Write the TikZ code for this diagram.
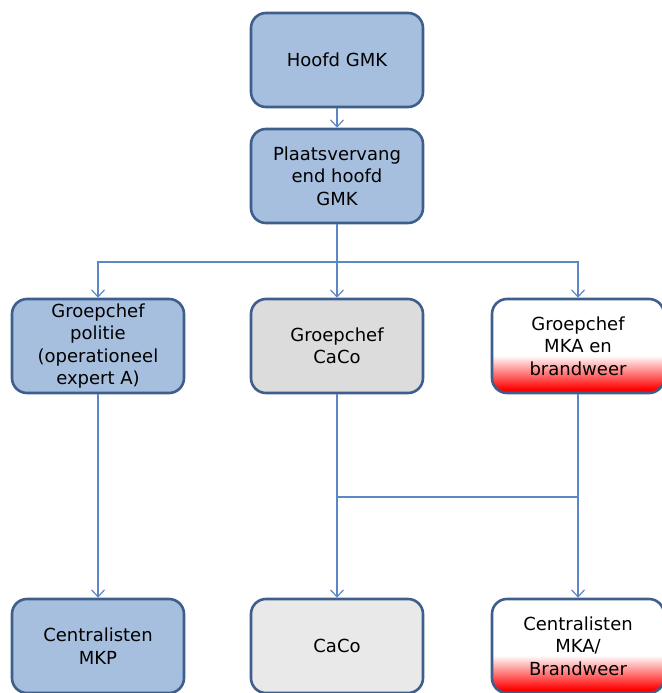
\documentclass[tikz,border=0pt]{standalone}
\usepackage{fontspec}
\setmainfont{DejaVu Sans}
\usepackage{tikz}
\usetikzlibrary{arrows.meta}
\usepackage{xcolor}

\definecolor{boxblue}{RGB}{167,191,222}
\definecolor{boxedge}{RGB}{62,94,140}
\definecolor{linkblue}{RGB}{91,135,198}
\definecolor{boxgray}{RGB}{220,220,220}
\definecolor{boxlight}{RGB}{233,233,233}
\pgfdeclareverticalshading{whitered}{100bp}{color(0bp)=(red); color(27bp)=(red); color(45bp)=(white); color(100bp)=(white)}

\begin{document}
\begin{tikzpicture}[x=1pt,y=-1pt]
\tikzset{>={Straight Barb[length=7pt,width=13pt,line width=1.2pt]}}
\tikzstyle{unit} =[draw=boxedge, line width=2.6pt, rounded corners=15pt, minimum width=172pt, minimum height=94pt, align=center, font=\fontsize{18}{22.5}\selectfont, text=black]
\tikzstyle{blueunit} =[unit, fill=boxblue]
\tikzstyle{grayunit} =[unit, fill=boxgray]
\tikzstyle{lightunit} =[unit, fill=boxlight]
\tikzstyle{redunit} =[unit, shading=whitered]
\tikzstyle{link} =[draw=linkblue, line width=1.4pt]

\useasboundingbox (0,0) rectangle (661,693);

\node[blueunit](hoofd) at (337,60){Hoofd GMK};
\node[blueunit](plv) at (337,176){Plaatsvervang\\end hoofd\\GMK};

\node[blueunit](politie) at (98,346){Groepchef\\politie\\(operationeel\\expert A)};
\node[grayunit](caco) at (337,346){Groepchef\\CaCo};
\node[redunit](mka) at (578,346){Groepchef\\MKA en\\brandweer};

\node[blueunit](mkp) at (98,646){Centralisten\\MKP};
\node[lightunit](cacob) at (337,646){CaCo};
\node[redunit](mkab) at (578,646){Centralisten\\MKA/\\Brandweer};

\coordinate (split) at (337,262);
\coordinate (join) at (337,497);

\draw [link,->] (hoofd) -- (plv);
\draw [link] (plv) -- (split);
\draw [link,->] (split) -| (politie);
\draw [link,->] (split) -- (caco);
\draw [link,->] (split) -| (mka);

\draw [link,->] (politie) -- (mkp);
\draw [link,->] (caco) -- (cacob);
\draw [link,->] (mka) -- (mkab);
\draw [link] (join) -- (join -| mka);
\end{tikzpicture}
\end{document}
